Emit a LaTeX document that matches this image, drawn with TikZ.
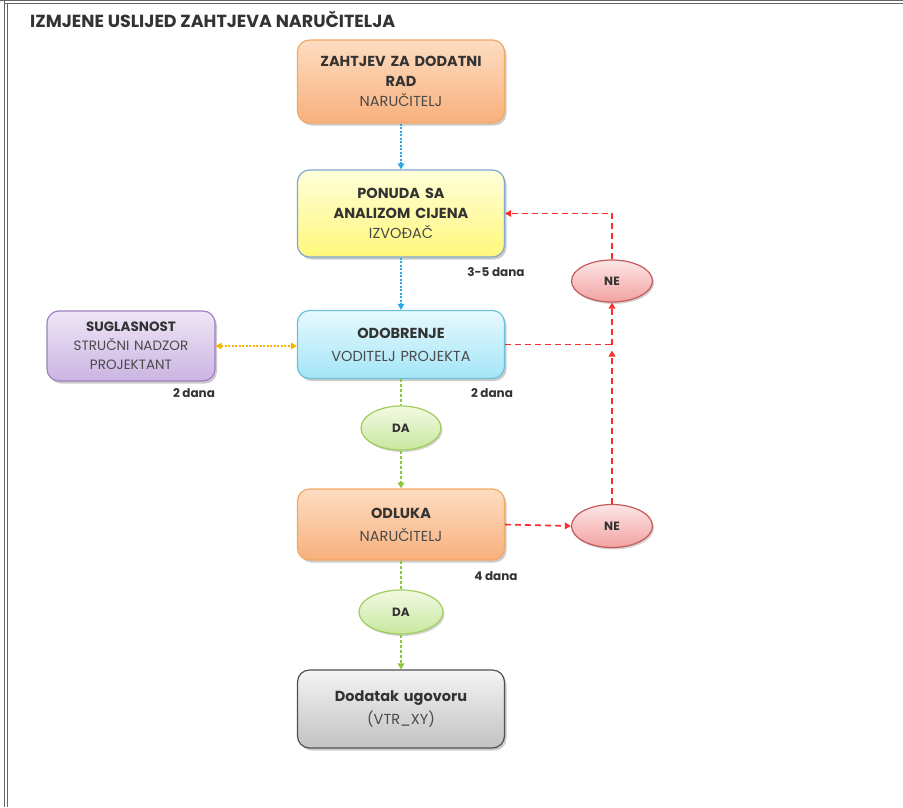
\documentclass[tikz,border=0pt]{standalone}
\usepackage{fontspec}
\setmainfont{Poppins}
\usetikzlibrary{arrows.meta,shapes.geometric,shadows}
\definecolor{txt}{HTML}{333333}
\definecolor{txtR}{HTML}{4A4A4A}
\definecolor{orT}{HTML}{FDDDC2}\definecolor{orB}{HTML}{F8B07C}\definecolor{orD}{HTML}{F2A865}
\definecolor{yeT}{HTML}{FFFFDA}\definecolor{yeB}{HTML}{FFF77A}\definecolor{yeD}{HTML}{7EA6CF}
\definecolor{blT}{HTML}{E6F9FE}\definecolor{blB}{HTML}{A4E5F8}\definecolor{blD}{HTML}{6CC0D8}
\definecolor{puT}{HTML}{EFE6F7}\definecolor{puB}{HTML}{CBB4E2}\definecolor{puD}{HTML}{9C80C0}
\definecolor{grT}{HTML}{F4F4F4}\definecolor{grB}{HTML}{C2C2C2}\definecolor{grD}{HTML}{505050}
\definecolor{gnT}{HTML}{F3FAE2}\definecolor{gnB}{HTML}{C8E8A0}\definecolor{gnD}{HTML}{A0CC60}
\definecolor{reT}{HTML}{FDE6E6}\definecolor{reB}{HTML}{F2A2A2}\definecolor{reD}{HTML}{C65A5A}
\definecolor{lnBlue}{HTML}{2BA8E0}\definecolor{lnOr}{HTML}{F7B500}
\definecolor{lnGreen}{HTML}{8CC63F}\definecolor{lnRed}{HTML}{FF2A2A}
\newcommand{\rg}[1]{{\color{txtR}#1}}
\begin{document}
\begin{tikzpicture}[x=1pt,y=-1pt,
  every node/.style={text=txt},
  box/.style={rounded corners=12pt, draw, line width=1.2pt, align=center,
    minimum width=207pt, text width=205pt, inner sep=0pt,
    font=\fontsize{14.5}{20}\selectfont,
    drop shadow={shadow xshift=2pt,shadow yshift=-2.5pt,opacity=0.4}},
  oval/.style={ellipse, draw, line width=1.2pt, inner sep=0pt,
    font=\bfseries\fontsize{12}{14}\selectfont,
    drop shadow={shadow xshift=1.5pt,shadow yshift=-2pt,opacity=0.35}},
  lbl/.style={font=\bfseries\fontsize{12}{14}\selectfont},
  tip/.style={-{Triangle[length=6pt,width=6.5pt]}},
  bluel/.style={lnBlue, line width=1.6pt, dash pattern=on 2pt off 1.5pt},
  orl/.style={lnOr, line width=1.6pt, dash pattern=on 2pt off 1.5pt},
  greenl/.style={lnGreen, line width=1.6pt, dash pattern=on 3pt off 2pt},
  redl/.style={lnRed, line width=1.6pt, dash pattern=on 6pt off 4pt},
]
\useasboundingbox (0,0) rectangle (903,807);
% frame
\draw[gray!80!black, line width=0.9pt] (0,0.8) -- (903,0.8);
\draw[gray!80!black, line width=0.9pt] (5,3.2) -- (903,3.2);
\draw[gray!80!black, line width=0.9pt] (4,0) -- (4,807);
\draw[gray!80!black, line width=0.9pt] (7.5,3.2) -- (7.5,807);
% title
\node[anchor=west, font=\bfseries\fontsize{17.5}{20}\selectfont, inner sep=0pt] (title) at (30,19) {IZMJENE USLIJED ZAHTJEVA NARUČITELJA};
% boxes
\node[box, top color=orT, bottom color=orB, draw=orD, minimum height=83pt] (b1) at (401,81.5)
  {\textbf{ZAHTJEV ZA DODATNI}\\\textbf{RAD}\\\rg{NARUČITELJ}};
\node[box, top color=yeT, bottom color=yeB, draw=yeD, minimum height=87pt] (b2) at (401,213.5)
  {\textbf{PONUDA SA}\\\textbf{ANALIZOM CIJENA}\\\rg{IZVOĐAČ}};
\node[box, top color=blT, bottom color=blB, draw=blD, minimum height=68pt,
  font=\fontsize{14.5}{23}\selectfont] (b3) at (401,344.5)
  {\textbf{ODOBRENJE}\\\rg{VODITELJ PROJEKTA}};
\node[box, top color=puT, bottom color=puB, draw=puD, minimum height=70pt,
  minimum width=168pt, text width=165pt, font=\fontsize{13.5}{19}\selectfont] (sug) at (131,346)
  {\textbf{SUGLASNOST}\\\rg{STRUČNI NADZOR}\\\rg{PROJEKTANT}};
\node[box, top color=orT, bottom color=orB, draw=orD, minimum height=71pt,
  font=\fontsize{14.5}{23}\selectfont] (b4) at (401,524.5)
  {\textbf{ODLUKA}\\\rg{NARUČITELJ}};
\node[box, top color=grT, bottom color=grB, draw=grD, minimum height=78pt,
  font=\fontsize{14.5}{23}\selectfont] (b5) at (401,709)
  {\textbf{Dodatak ugovoru}\\\rg{(VTR\_XY)}};
% ovals
\node[oval, top color=gnT, bottom color=gnB, draw=gnD, minimum width=80pt, minimum height=44pt] (da1) at (401,428) {DA};
\node[oval, top color=gnT, bottom color=gnB, draw=gnD, minimum width=84pt, minimum height=44pt] (da2) at (401,612) {DA};
\node[oval, top color=reT, bottom color=reB, draw=reD, minimum width=81pt, minimum height=42pt] (ne1) at (612,281) {NE};
\node[oval, top color=reT, bottom color=reB, draw=reD, minimum width=81pt, minimum height=43pt] (ne2) at (612,526) {NE};
% labels
\node[lbl] (l1) at (496,272) {3-5 dana};
\node[lbl] (l2) at (194,393) {2 dana};
\node[lbl] (l3) at (492,393) {2 dana};
\node[lbl] (l4) at (496,576) {4 dana};
% connectors
\draw[bluel, tip] (b1.south) -- (b2.north);
\draw[bluel, tip] (b2.south) -- (b3.north);
\draw[orl, {Triangle[length=6pt,width=6.5pt]}-{Triangle[length=6pt,width=6.5pt]}] (sug.east) -- (sug.east -| b3.west);
\draw[greenl] (b3.south) -- (da1.north);
\draw[greenl, tip] (da1.south) -- (b4.north);
\draw[greenl] (b4.south) -- (da2.north);
\draw[greenl, tip] (da2.south) -- (b5.north);
\coordinate (J) at (ne1.south |- b3.east);
\draw[redl] (b3.east) -- (J);
\draw[redl, tip] (ne2.north) -- ([yshift=-6pt]J);
\draw[redl, tip] (J) -- (ne1.south);
\draw[redl, tip] (ne1.north) |- (b2.east);
\draw[redl, tip] (b4.east) -- (ne2.west);
\end{tikzpicture}
\end{document}
